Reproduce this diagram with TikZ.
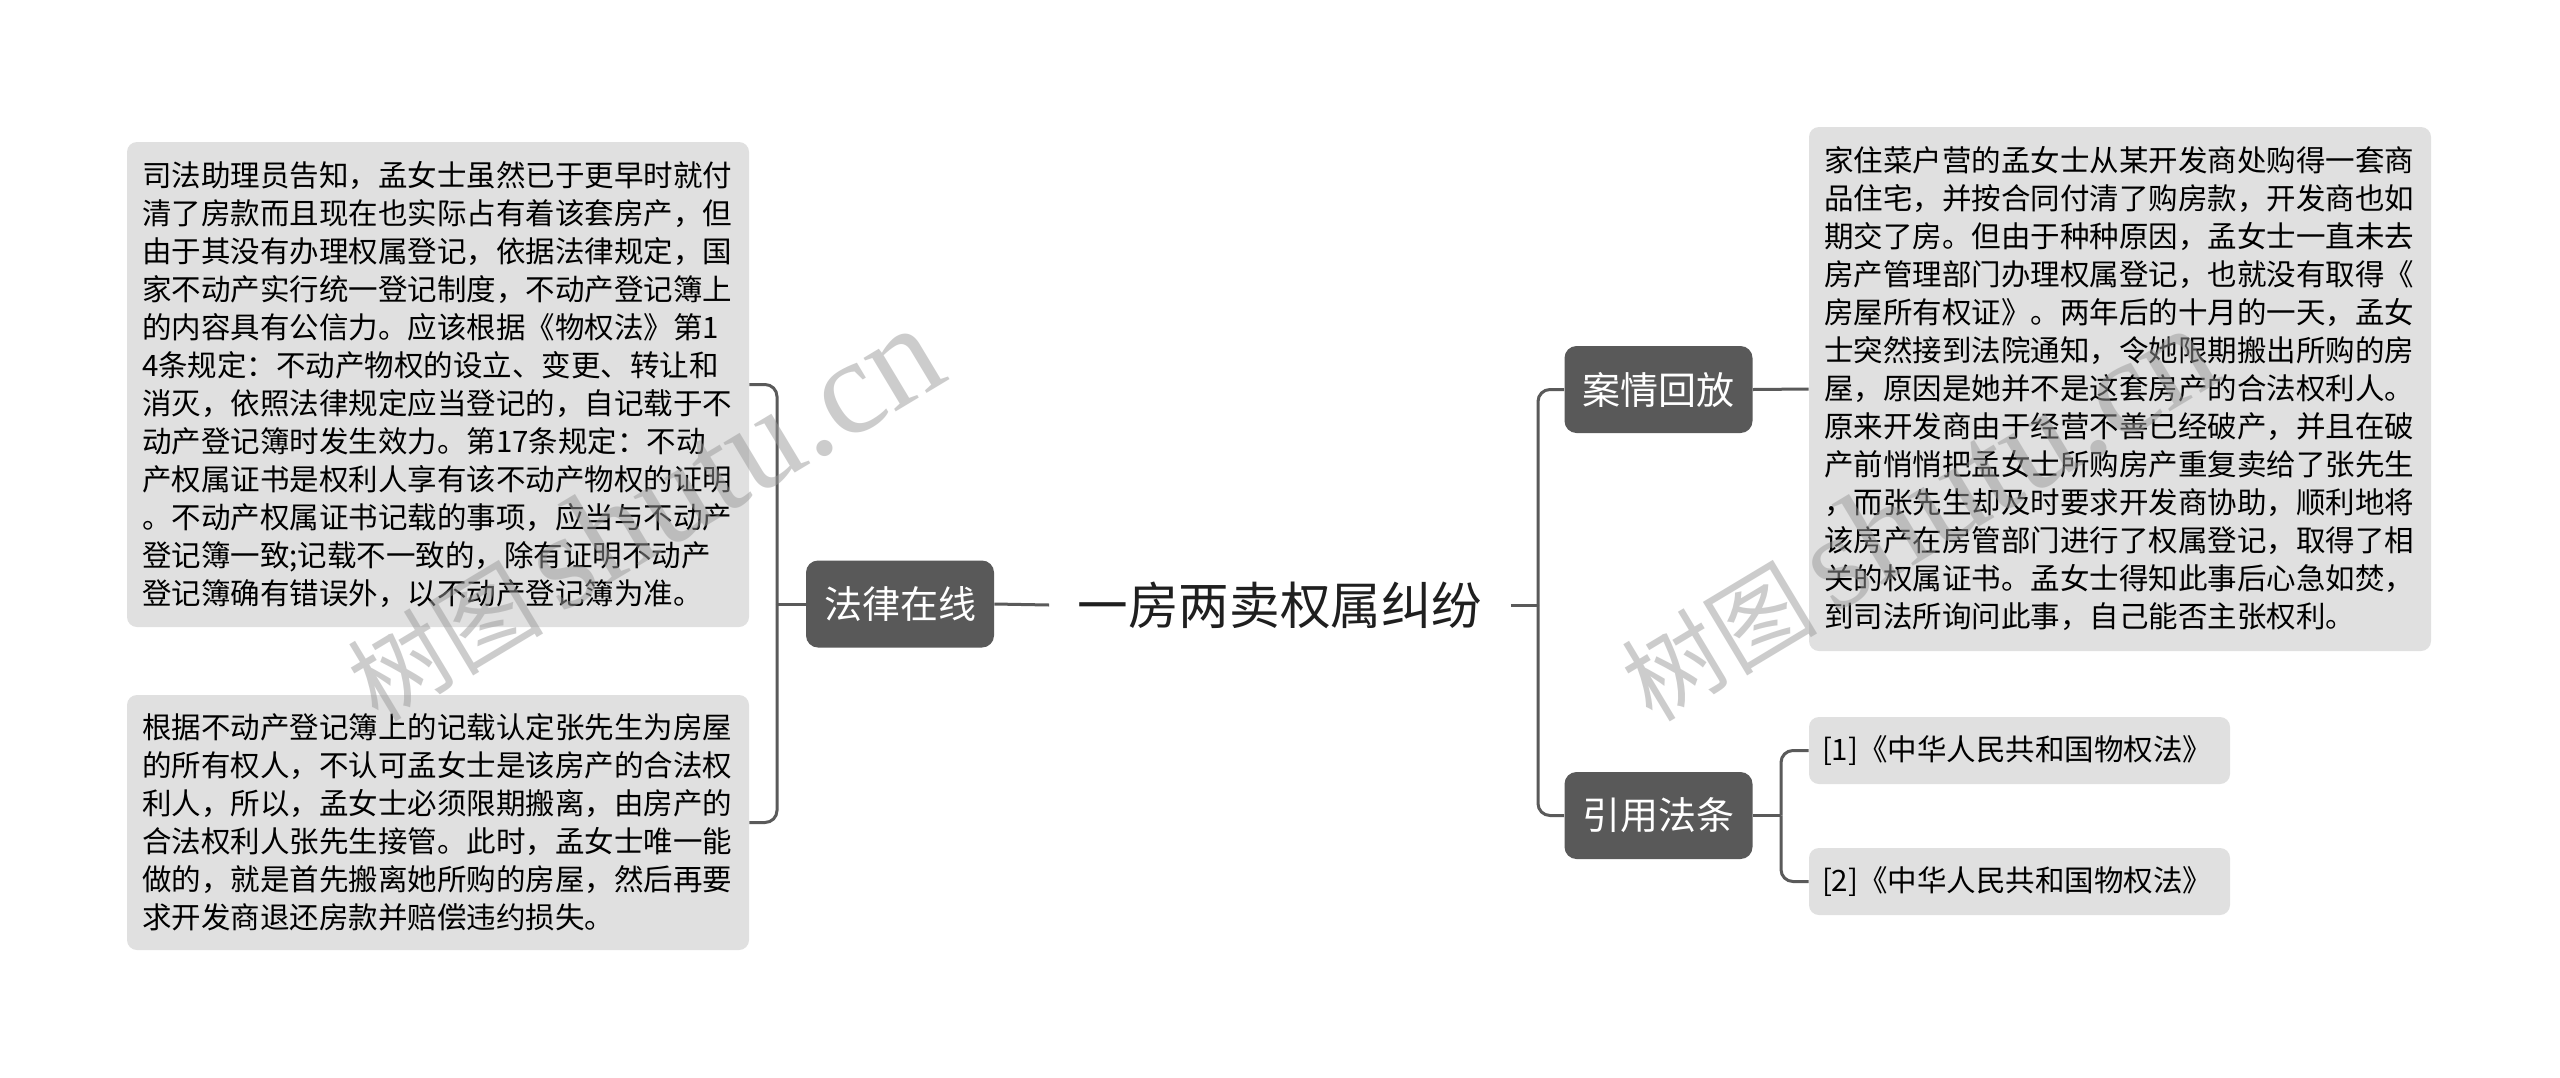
\documentclass[tikz,border=0pt]{standalone}
\usepackage{fontspec}
\newfontfamily\cjk{Noto Sans CJK SC}
\newfontfamily\wmlatin{Liberation Serif}
\definecolor{leafgray}{HTML}{E0E0E0}
\definecolor{topicgray}{HTML}{595959}
\definecolor{linegray}{HTML}{5A5A5A}
\definecolor{wmgray}{HTML}{9A9A9A}
\begin{document}
\begin{tikzpicture}[x=0.5pt,y=-0.5pt,
  leaf/.style={fill=leafgray, rounded corners=5pt, align=left, text width=296pt,
    inner xsep=7.5pt, inner ysep=0pt, text=black,
    font=\cjk\fontsize{14.75}{19}\selectfont},
  cite/.style={fill=leafgray, rounded corners=5pt, align=left, text width=197.5pt,
    inner xsep=6.5pt, inner ysep=0pt, text=black, minimum height=33.5pt,
    font=\cjk\fontsize{14.75}{19}\selectfont},
  topic/.style={fill=topicgray, rounded corners=6pt, text=white,
    font=\cjk\fontsize{19}{23}\selectfont, minimum width=94pt, minimum height=43.5pt, inner sep=0pt},
  title/.style={text=black!88, font=\cjk\fontsize{25.3}{30}\selectfont, inner xsep=14pt, inner ysep=4pt},
  conn/.style={draw=linegray, line width=1.5pt, rounded corners=6pt},
  wm/.style={text=wmgray, opacity=0.5, rotate=31, inner sep=0pt}
]
\useasboundingbox[fill=white] (0,0) rectangle (2560,1077);

% central topic
\node[title] (root) at (1280,605) {一房两卖权属纠纷};

% main topics
\node[topic] (falv) at (900,604) {法律在线};
\node[topic] (anqing) at (1658.5,389.5) {案情回放};
\node[topic] (yinyong) at (1658.5,815.5) {引用法条};

% left leaves
\node[leaf, minimum height=242.5pt] (l1) at (438,384.5) {司法助理员告知，孟女士虽然已于更早时就付\\
清了房款而且现在也实际占有着该套房产，但\\
由于其没有办理权属登记，依据法律规定，国\\
家不动产实行统一登记制度，不动产登记簿上\\
的内容具有公信力。应该根据《物权法》第1\\
4条规定：不动产物权的设立、变更、转让和\\
消灭，依照法律规定应当登记的，自记载于不\\
动产登记簿时发生效力。第17条规定：不动\\
产权属证书是权利人享有该不动产物权的证明\\
。不动产权属证书记载的事项，应当与不动产\\
登记簿一致;记载不一致的，除有证明不动产\\
登记簿确有错误外，以不动产登记簿为准。};

\node[leaf, minimum height=127.5pt] (l2) at (438,822.5) {根据不动产登记簿上的记载认定张先生为房屋\\
的所有权人，不认可孟女士是该房产的合法权\\
利人，所以，孟女士必须限期搬离，由房产的\\
合法权利人张先生接管。此时，孟女士唯一能\\
做的，就是首先搬离她所购的房屋，然后再要\\
求开发商退还房款并赔偿违约损失。};

% right leaves
\node[leaf, minimum height=262pt] (r1) at (2120,389) {家住菜户营的孟女士从某开发商处购得一套商\\
品住宅，并按合同付清了购房款，开发商也如\\
期交了房。但由于种种原因，孟女士一直未去\\
房产管理部门办理权属登记，也就没有取得《\\
房屋所有权证》。两年后的十月的一天，孟女\\
士突然接到法院通知，令她限期搬出所购的房\\
屋，原因是她并不是这套房产的合法权利人。\\
原来开发商由于经营不善已经破产，并且在破\\
产前悄悄把孟女士所购房产重复卖给了张先生\\
，而张先生却及时要求开发商协助，顺利地将\\
该房产在房管部门进行了权属登记，取得了相\\
关的权属证书。孟女士得知此事后心急如焚，\\
到司法所询问此事，自己能否主张权利。};

\node[cite] (c1) at (2019.5,750.5) {[1]《中华人民共和国物权法》};
\node[cite] (c2) at (2019.5,881.5) {[2]《中华人民共和国物权法》};

% junction points
\coordinate (jl) at (777,604);
\coordinate (jr) at (1538,605);
\coordinate (jy) at (1781,815.5);

% connectors
\draw[conn] (root.west) -- (falv.east);
\draw[conn] (falv.west) -- (jl);
\draw[conn] (jl) |- (l1.east);
\draw[conn] (jl) |- (l2.east);
\draw[conn] (root.east) -- (jr);
\draw[conn] (jr) |- (anqing.west);
\draw[conn] (jr) |- (yinyong.west);
\draw[conn] (anqing.east) -- (r1.west);
\draw[conn] (yinyong.east) -- (jy);
\draw[conn] (jy) |- (c1.west);
\draw[conn] (jy) |- (c2.west);

% watermarks
\node[wm] (wm1) at (643,514) {\cjk\fontsize{49}{49}\selectfont 树图\,\wmlatin\fontsize{68}{68}\selectfont shutu.cn};
\node[wm] (wm2) at (1917,514) {\cjk\fontsize{49}{49}\selectfont 树图\,\wmlatin\fontsize{68}{68}\selectfont shutu.cn};
\end{tikzpicture}
\end{document}
